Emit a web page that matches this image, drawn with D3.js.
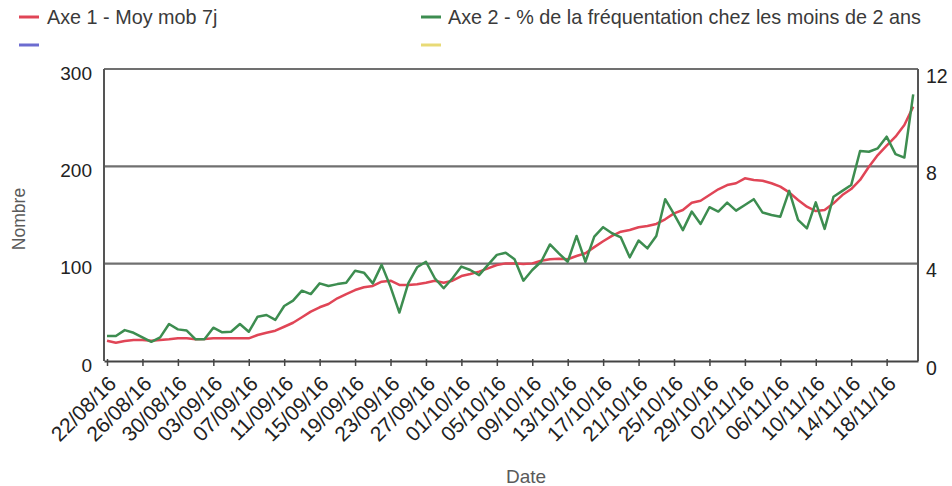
<!DOCTYPE html>
<html>
<head>
<meta charset="utf-8">
<script src="https://cdn.jsdelivr.net/npm/d3@7"></script>
<style>
  body { margin: 0; background: #fff; }
  svg { display: block; font-family: "Liberation Sans", Arial, sans-serif; }
</style>
</head>
<body>
<script>
// legend labels
var seriesNames = ["Axe 1 - Moy mob 7j", "Axe 2 - % de la fréquentation chez les moins de 2 ans", "", ""];
var seriesColours = ["#e04556", "#3d8d50", "#6c6cd0", "#e8da76"];

// one point per day, 22/08/16 -> 21/11/16
var startDay = new Date(2016, 7, 22);
var endDay = new Date(2016, 10, 22);

// Axe 1 : moyenne mobile 7 jours (Nombre)
var moyMob = [
  20.9, 18.8, 20.5, 21.6, 21.6, 20.9, 21.6, 22.3, 23.3, 23.3,
  22.3, 22.6, 23.3, 23.3, 23.3, 23.3, 23.3, 26.7, 29.1, 31.1,
  35.2, 39.3, 44.9, 50.7, 55.2, 58.6, 64.4, 68.8, 72.9, 75.7,
  77.1, 81.5, 82.5, 78.1, 78.1, 78.8, 80.4, 82.5, 80.4, 82.5,
  87.3, 89.4, 91.8, 95.2, 98.6, 100.3, 100.3, 99.7, 100.3, 103,
  104.5, 105.1, 104.5, 107.9, 110.7, 117, 123, 128.5, 132.8, 134.6,
  137.4, 138.7, 140.8, 145.6, 151.7, 155.1, 162.6, 164.7, 170.5, 176.4,
  180.8, 182.6, 187.7, 186, 185.2, 182.6, 179.1, 173.3, 165.4, 158.5,
  154.1, 155.1, 162, 170.5, 176.7, 186, 199.6, 211.6, 221.2, 230.4,
  242.5, 261.3
];

// Axe 2 : % de la frequentation chez les moins de 2 ans
var pctMoins2 = [
  1.03, 1.03, 1.27, 1.16, 0.97, 0.79, 0.97, 1.52, 1.30, 1.25,
  0.89, 0.89, 1.37, 1.18, 1.20, 1.52, 1.20, 1.82, 1.89, 1.69,
  2.26, 2.48, 2.89, 2.75, 3.19, 3.08, 3.16, 3.22, 3.71, 3.63,
  3.19, 3.95, 3.05, 1.99, 3.19, 3.85, 4.08, 3.40, 2.99, 3.40,
  3.88, 3.74, 3.53, 3.95, 4.36, 4.45, 4.18, 3.30, 3.74, 4.08,
  4.79, 4.42, 4.08, 5.14, 4.08, 5.11, 5.50, 5.25, 5.08, 4.26,
  4.95, 4.63, 5.14, 6.65, 6.04, 5.38, 6.14, 5.63, 6.32, 6.14,
  6.51, 6.18, 6.41, 6.65, 6.10, 6.00, 5.93, 6.99, 5.80, 5.45,
  6.52, 5.43, 6.75, 6.99, 7.23, 8.63, 8.60, 8.74, 9.22, 8.50,
  8.36, 10.96
];

var leftTicks = [0, 100, 200, 300];
var rightTicks = [0, 4, 8, 12];

var svgW = 952;
var svgH = 486;
var margin = {top: 69, right: 34, bottom: 125, left: 104};

var dates = d3.timeDay.range(startDay, endDay);
var formatTime = d3.timeFormat("%d/%m/%y");
var tickDates = dates.filter(function(d, i) { return i % 4 === 0 && i <= 88; });

var svg = d3.select("body")
    .append("svg")
    .attr("width", svgW)
    .attr("height", svgH);

var dayMs = 864e5;
var xScale = d3.scaleTime()
    .domain([new Date(+dates[0] - 0.34 * dayMs), new Date(+dates[dates.length - 1] + 0.54 * dayMs)])
    .range([margin.left, svgW - margin.right]);

var yLeft = d3.scaleLinear()
    .domain([0, 300])
    .range([svgH - margin.bottom, margin.top]);

var yRight = d3.scaleLinear()
    .domain([0, 12])
    .range([svgH - margin.bottom, margin.top]);

// gridlines (100, 200 and the top one at 300)
svg.append("g")
    .selectAll("line")
    .data(leftTicks.slice(1))
    .enter()
    .append("line")
    .attr("x1", margin.left)
    .attr("x2", svgW - margin.right)
    .attr("y1", function(d) { return yLeft(d); })
    .attr("y2", function(d) { return yLeft(d); })
    .attr("stroke", "#707070")
    .attr("stroke-width", 2.2);

// left + right borders
svg.append("line")
    .attr("x1", margin.left).attr("x2", margin.left)
    .attr("y1", margin.top).attr("y2", svgH - margin.bottom)
    .attr("stroke", "#555").attr("stroke-width", 2);
svg.append("line")
    .attr("x1", svgW - margin.right).attr("x2", svgW - margin.right)
    .attr("y1", margin.top).attr("y2", svgH - margin.bottom)
    .attr("stroke", "#555").attr("stroke-width", 2);

//Define X axis
var xAxis = d3.axisBottom(xScale)
    .tickValues(tickDates)
    .tickSize(5)
    .tickSizeOuter(0)
    .tickFormat(formatTime);

var gx = svg.append("g")
    .attr("transform", "translate(0," + (svgH - margin.bottom) + ")")
    .call(xAxis);
gx.select(".domain").attr("stroke", "#444").attr("stroke-width", 2);
gx.selectAll(".tick line").attr("stroke", "#444").attr("stroke-width", 1.5).attr("y1", -2);
gx.selectAll(".tick text")
    .attr("fill", "#222")
    .style("font-size", "21px")
    .attr("text-anchor", "end")
    .attr("y", 0)
    .attr("dy", "0")
    .attr("transform", "translate(10,24) rotate(-45)");

// left axis labels
svg.append("g")
    .selectAll("text")
    .data(leftTicks)
    .enter()
    .append("text")
    .attr("x", margin.left - 12)
    .attr("y", function(d) { return yLeft(d) + 4; })
    .attr("dy", "0.35em")
    .attr("text-anchor", "end")
    .attr("fill", "#222")
    .style("font-size", "19px")
    .text(function(d) { return d; });

// right axis labels
svg.append("g")
    .selectAll("text")
    .data(rightTicks)
    .enter()
    .append("text")
    .attr("x", svgW - margin.right + 8)
    .attr("y", function(d) { return yRight(d) + 7; })
    .attr("dy", "0.35em")
    .attr("text-anchor", "start")
    .attr("fill", "#222")
    .style("font-size", "19.5px")
    .text(function(d) { return d; });

// axis titles
svg.append("text")
    .attr("transform", "translate(25,219) rotate(-90)")
    .attr("text-anchor", "middle")
    .attr("fill", "#5a5a5a")
    .style("font-size", "17.5px")
    .text("Nombre");

svg.append("text")
    .attr("x", 526)
    .attr("y", 483)
    .attr("text-anchor", "middle")
    .attr("fill", "#5a5a5a")
    .style("font-size", "19px")
    .text("Date");

// lines
var redLine = d3.line()
    .x(function(d, i) { return xScale(dates[i]); })
    .y(function(d) { return yLeft(d); });
var greenLine = d3.line()
    .x(function(d, i) { return xScale(dates[i]); })
    .y(function(d) { return yRight(d); });

svg.append("path")
    .datum(moyMob)
    .attr("fill", "none")
    .attr("stroke", seriesColours[0])
    .attr("stroke-width", 2.5)
    .attr("stroke-linejoin", "round")
    .attr("d", redLine);

svg.append("path")
    .datum(pctMoins2)
    .attr("fill", "none")
    .attr("stroke", seriesColours[1])
    .attr("stroke-width", 2.5)
    .attr("stroke-linejoin", "round")
    .attr("d", greenLine);

// legend, 2 columns
var legendPos = [[19, 17], [421, 17], [19, 45], [421, 45]];
var legend = svg.append("g")
    .selectAll("g")
    .data(seriesNames)
    .enter()
    .append("g")
    .attr("transform", function(d, i) { return "translate(" + legendPos[i][0] + "," + legendPos[i][1] + ")"; });

legend.append("line")
    .attr("x1", 0).attr("x2", 20)
    .attr("stroke", function(d, i) { return seriesColours[i]; })
    .attr("stroke-width", 3);

legend.append("text")
    .attr("x", function(d, i) { return i % 2 === 0 ? 28 : 27; })
    .attr("dy", "0.35em")
    .attr("fill", "#3a3a3a")
    .style("font-size", "19.8px")
    .text(function(d) { return d; });
</script>
</body>
</html>
